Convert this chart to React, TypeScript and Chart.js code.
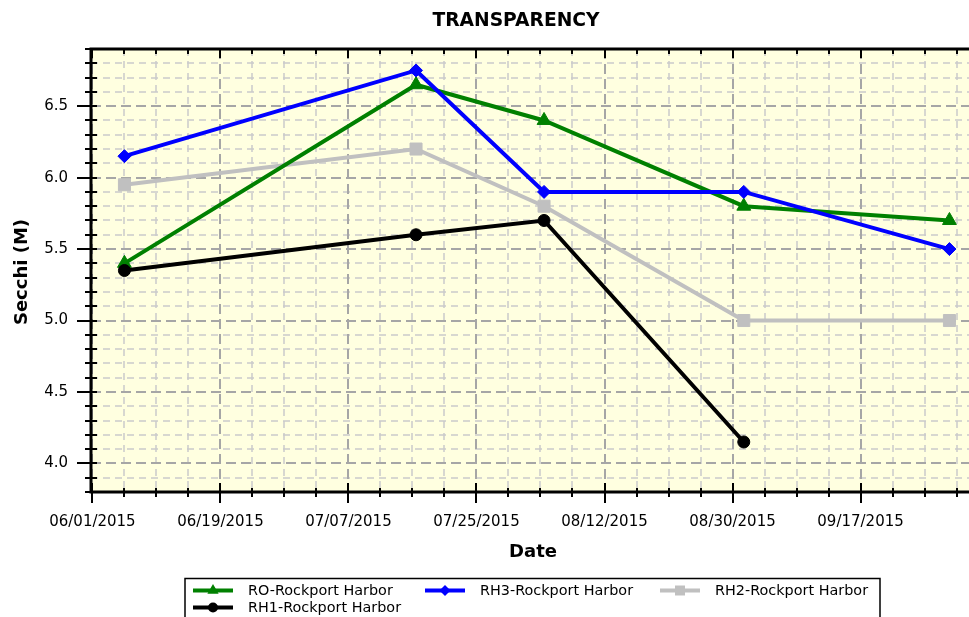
import React, { useEffect, useRef } from 'react';
import { Chart, registerables } from 'chart.js';

Chart.register(...registerables);

// ---------- data ----------
const chartTitle = 'TRANSPARENCY';
const xAxisTitle = 'Date';
const yAxisTitle = 'Secchi (M)';

const sampleDates = ['06/05/2015 12:00', '07/16/2015 12:00', '08/03/2015 12:00', '08/31/2015 14:00', '09/29/2015 12:00'];

const seriesNames = ['RO-Rockport Harbor', 'RH3-Rockport Harbor', 'RH2-Rockport Harbor', 'RH1-Rockport Harbor'];
const roValues = [5.4, 6.65, 6.4, 5.8, 5.7];
const rh3Values = [6.15, 6.75, 5.9, 5.9, 5.5];
const rh2Values = [5.95, 6.2, 5.8, 5.0, 5.0];
const rh1Values: (number | null)[] = [5.35, 5.6, 5.7, 4.15, null];

const seriesColors = ['#008000', '#0000ff', '#c0c0c0', '#000000'];
const seriesPointStyles = ['triangle', 'rectRot', 'rect', 'circle'];

const xTickDates = ['06/01/2015', '06/19/2015', '07/07/2015', '07/25/2015', '08/12/2015', '08/30/2015', '09/17/2015'];
const yTickValues = [4.0, 4.5, 5.0, 5.5, 6.0, 6.5];
const xMinorStepDays = 4.5;
const yMinorStep = 0.1;

const xRangeDays = [-0.2, 123.25];
const yRange = [3.8, 6.9];

// ---------- helpers ----------
const ORIGIN = Date.UTC(2015, 5, 1);
const DAY = 86400000;

function dayOf(s: string): number {
  const [d, t] = s.split(' ');
  const [m, dd, y] = d.split('/').map(Number);
  let h = 0;
  let mi = 0;
  if (t) {
    [h, mi] = t.split(':').map(Number);
  }
  return (Date.UTC(y, m - 1, dd, h, mi) - ORIGIN) / DAY;
}

function fmtDay(v: number): string {
  const dt = new Date(ORIGIN + Math.round(v) * DAY);
  const mm = String(dt.getUTCMonth() + 1).padStart(2, '0');
  const dd = String(dt.getUTCDate()).padStart(2, '0');
  return `${mm}/${dd}/${dt.getUTCFullYear()}`;
}

function drawMarker(ctx: CanvasRenderingContext2D, style: string, x: number, y: number, r: number, color: string) {
  ctx.save();
  ctx.fillStyle = color;
  ctx.beginPath();
  if (style === 'triangle') {
    for (let i = 0; i < 3; i++) {
      const a = -Math.PI / 2 + (i * 2 * Math.PI) / 3;
      const px = x + Math.cos(a) * r;
      const py = y + Math.sin(a) * r;
      if (i === 0) ctx.moveTo(px, py);
      else ctx.lineTo(px, py);
    }
    ctx.closePath();
  } else if (style === 'rectRot') {
    ctx.moveTo(x, y - r);
    ctx.lineTo(x + r, y);
    ctx.lineTo(x, y + r);
    ctx.lineTo(x - r, y);
    ctx.closePath();
  } else if (style === 'rect') {
    ctx.rect(x - r, y - r, 2 * r, 2 * r);
  } else {
    ctx.arc(x, y, r, 0, Math.PI * 2);
  }
  ctx.fill();
  ctx.restore();
}

const decorPlugin = {
  id: 'decor',
  beforeDraw(chart: any) {
    const { ctx, chartArea: a } = chart;
    ctx.save();
    ctx.fillStyle = '#ffffff';
    ctx.fillRect(0, 0, chart.width, chart.height);
    ctx.fillStyle = '#ffffe0';
    ctx.fillRect(a.left, a.top, a.right - a.left, a.bottom - a.top);
    ctx.restore();
  },
  beforeDatasetsDraw(chart: any) {
    const { ctx, chartArea: a } = chart;
    const xs = chart.scales.x;
    const ys = chart.scales.y;
    const xMajorDays = xTickDates.map(dayOf);
    const xLines: { px: number; major: boolean }[] = [];
    for (let i = 0; ; i++) {
      const d = i * xMinorStepDays;
      if (d > xRangeDays[1]) break;
      xLines.push({ px: Math.round(xs.getPixelForValue(d)), major: xMajorDays.some((m) => Math.abs(m - d) < 1e-6) });
    }
    const yLines: { px: number; major: boolean }[] = [];
    const n = Math.round((yRange[1] - yRange[0]) / yMinorStep);
    for (let i = 0; i <= n; i++) {
      const v = Math.round((yRange[0] + i * yMinorStep) * 10) / 10;
      yLines.push({ px: Math.round(ys.getPixelForValue(v)), major: yTickValues.some((m) => Math.abs(m - v) < 1e-6) });
    }
    ctx.save();
    // minor grid
    ctx.strokeStyle = '#cacaca';
    ctx.lineWidth = 1.5;
    ctx.setLineDash([7, 5]);
    for (const l of xLines) {
      if (l.major) continue;
      ctx.beginPath();
      ctx.moveTo(l.px, a.top);
      ctx.lineTo(l.px, a.bottom);
      ctx.stroke();
    }
    for (const l of yLines) {
      if (l.major) continue;
      ctx.beginPath();
      ctx.moveTo(a.left, l.px);
      ctx.lineTo(a.right, l.px);
      ctx.stroke();
    }
    // major grid
    ctx.strokeStyle = '#a6a6a6';
    ctx.lineWidth = 2;
    ctx.setLineDash([10, 5]);
    for (const l of xLines) {
      if (!l.major) continue;
      ctx.beginPath();
      ctx.moveTo(l.px, a.top);
      ctx.lineTo(l.px, a.bottom);
      ctx.stroke();
    }
    for (const l of yLines) {
      if (!l.major) continue;
      ctx.beginPath();
      ctx.moveTo(a.left, l.px);
      ctx.lineTo(a.right, l.px);
      ctx.stroke();
    }
    ctx.setLineDash([]);
    // axis lines
    ctx.strokeStyle = '#000';
    ctx.lineWidth = 3;
    ctx.beginPath();
    ctx.moveTo(a.left, a.top - 1.5);
    ctx.lineTo(a.left, a.bottom + 1.5);
    ctx.moveTo(a.left - 1.5, a.bottom);
    ctx.lineTo(a.right, a.bottom);
    ctx.moveTo(a.left - 1.5, a.top);
    ctx.lineTo(a.right, a.top);
    ctx.stroke();
    // ticks
    ctx.lineWidth = 2;
    ctx.beginPath();
    for (const l of xLines) {
      ctx.moveTo(l.px, a.bottom - (l.major ? 9 : 4));
      ctx.lineTo(l.px, a.bottom + (l.major ? 11 : 5));
      ctx.moveTo(l.px, a.top);
      ctx.lineTo(l.px, a.top + (l.major ? 9 : 5));
    }
    for (const l of yLines) {
      ctx.moveTo(a.left - (l.major ? 14 : 6), l.px);
      ctx.lineTo(a.left + 6, l.px);
    }
    ctx.stroke();
    ctx.restore();
  },
  afterDraw(chart: any) {
    const { ctx } = chart;
    ctx.save();
    ctx.fillStyle = '#000';
    ctx.textAlign = 'center';
    ctx.textBaseline = 'middle';
    ctx.font = 'bold 18.7px "DejaVu Sans"';
    ctx.fillText(chartTitle, 516, 21);
    ctx.font = 'bold 18px "DejaVu Sans"';
    ctx.fillText(xAxisTitle, 533, 552);
    ctx.save();
    ctx.translate(22, 272);
    ctx.rotate(-Math.PI / 2);
    ctx.fillText(yAxisTitle, 0, 0);
    ctx.restore();

    // legend
    ctx.strokeStyle = '#000';
    ctx.lineWidth = 1.5;
    ctx.strokeRect(185, 578.5, 695, 60);
    const pos = [
      [193, 590.5],
      [425, 590.5],
      [660, 590.5],
      [193, 607.5],
    ];
    const markerR = [6.5, 5.5, 5, 5];
    ctx.font = '14.4px "DejaVu Sans"';
    ctx.textAlign = 'left';
    seriesNames.forEach((name, i) => {
      const [x, y] = pos[i];
      ctx.strokeStyle = seriesColors[i];
      ctx.lineWidth = 4;
      ctx.beginPath();
      ctx.moveTo(x, y);
      ctx.lineTo(x + 40, y);
      ctx.stroke();
      drawMarker(ctx, seriesPointStyles[i], x + 20, y, markerR[i], seriesColors[i]);
      ctx.fillStyle = '#000';
      ctx.fillText(name, x + 55, y + 0.5);
    });
    ctx.restore();
  },
};

export default function App() {
  const canvasRef = useRef<HTMLCanvasElement | null>(null);

  useEffect(() => {
    document.body.style.margin = '0';
    document.body.style.overflow = 'hidden';
    const canvas = canvasRef.current;
    if (!canvas) return;
    const xs = sampleDates.map(dayOf);
    const allValues = [roValues, rh3Values, rh2Values, rh1Values];
    const orders = [2, 1, 3, 0];
    const radii = [8, 6.5, 8.5, 6];
    const datasets = seriesNames.map((name, i) => ({
      label: name,
      data: allValues[i].map((v, j) => ({ x: xs[j], y: v })),
      borderColor: seriesColors[i],
      backgroundColor: seriesColors[i],
      pointBackgroundColor: seriesColors[i],
      pointBorderColor: seriesColors[i],
      borderWidth: 4,
      pointStyle: seriesPointStyles[i],
      pointRadius: radii[i],
      pointBorderWidth: 1,
      tension: 0,
      spanGaps: false,
      order: orders[i],
    }));

    const chart = new Chart(canvas, {
      type: 'line',
      data: { datasets } as any,
      plugins: [decorPlugin],
      options: {
        animation: false,
        responsive: false,
        devicePixelRatio: 1,
        layout: { autoPadding: false, padding: { top: 49, left: 0, right: 0, bottom: 0 } },
        plugins: {
          legend: { display: false },
          title: { display: false },
          tooltip: { enabled: false },
        },
        scales: {
          x: {
            type: 'linear',
            position: 'bottom',
            min: xRangeDays[0],
            max: xRangeDays[1],
            afterBuildTicks: (s: any) => {
              s.ticks = xTickDates.map((d) => ({ value: dayOf(d) }));
            },
            afterFit: (s: any) => {
              s.height = 125;
              s.paddingLeft = 0;
              s.paddingRight = 0;
            },
            grid: { display: false, drawTicks: false },
            border: { display: false },
            ticks: {
              autoSkip: false,
              maxRotation: 0,
              minRotation: 0,
              padding: 21,
              color: '#000',
              font: { family: 'DejaVu Sans', size: 15 },
              callback: (v: any) => fmtDay(Number(v)),
            },
          },
          y: {
            type: 'linear',
            min: yRange[0],
            max: yRange[1],
            afterBuildTicks: (s: any) => {
              s.ticks = yTickValues.map((v) => ({ value: v }));
            },
            afterFit: (s: any) => {
              s.width = 91;
              s.paddingTop = 0;
              s.paddingBottom = 0;
            },
            grid: { display: false, drawTicks: false },
            border: { display: false },
            ticks: {
              autoSkip: false,
              padding: 23,
              color: '#000',
              font: { family: 'DejaVu Sans', size: 15 },
              callback: (v: any) => Number(v).toFixed(1),
            },
          },
        },
      } as any,
    });
    return () => chart.destroy();
  }, []);

  return (
    <div style={{ width: 969, height: 617, overflow: 'hidden' }}>
      <canvas ref={canvasRef} width={969} height={617} style={{ display: 'block', width: 969, height: 617 }} />
    </div>
  );
}
